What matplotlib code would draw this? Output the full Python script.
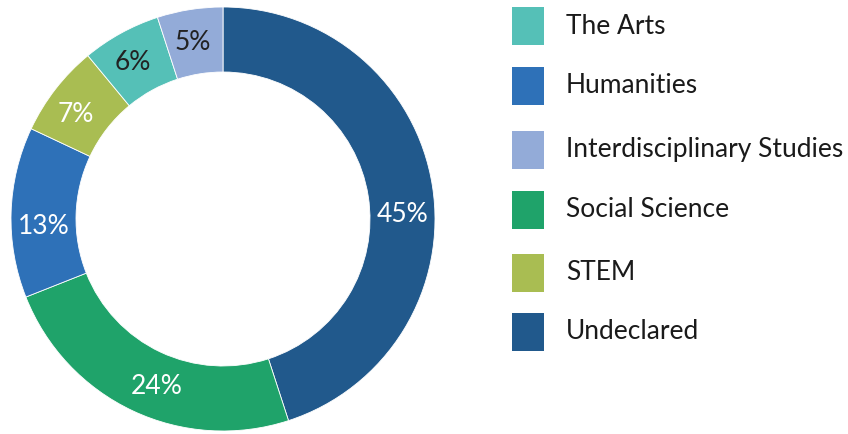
import matplotlib.pyplot as plt
from matplotlib.patches import Rectangle

categories = ["The Arts", "Humanities", "Interdisciplinary Studies",
              "Social Science", "STEM", "Undeclared"]
colors = ["#55c0b7", "#2e71b8", "#93abd8", "#1fa36a", "#a9bd52", "#21598c"]

# pie order (clockwise from top)
pie_order = ["Undeclared", "Social Science", "Humanities", "STEM",
             "The Arts", "Interdisciplinary Studies"]
pie_values = [45, 24, 13, 7, 6, 5]
label_colors = ["white", "white", "white", "white", "#222222", "#222222"]

plt.rcParams['font.family'] = ['Lato', 'DejaVu Sans']

W, H = 848, 434
fig = plt.figure(figsize=(W / 100, H / 100), dpi=100)
ax = fig.add_axes([0, 0, 1, 1])

pie_colors = [colors[categories.index(c)] for c in pie_order]
wedges, texts, autotexts = ax.pie(
    pie_values, colors=pie_colors, startangle=90, counterclock=False,
    center=(223, H - 219), radius=212, autopct='%d%%', pctdistance=0.85,
    wedgeprops=dict(width=65, edgecolor="white", linewidth=0.6),
    textprops=dict(fontsize=19))

# percent labels sit a little off the slice middles in the original
label_pos = [(403, 215), (157, 386), (44, 226), (76, 114), (133, 63), (193, 42)]
for t, c, (lx, ly) in zip(autotexts, label_colors, label_pos):
    t.set_color(c)
    t.set_position((lx, H - ly))

# pie() resets the limits, so set them afterwards
ax.set_xlim(0, W)
ax.set_ylim(0, H)
ax.set_aspect("equal")
ax.axis("off")

# legend
row_y = [26, 85.5, 150, 209.5, 273, 331.5]
for name, col, y in zip(categories, colors, row_y):
    ax.add_patch(Rectangle((512, H - y - 19), 32, 38, facecolor=col,
                           edgecolor="none"))
    ax.text(566, H - y, name, fontsize=19, color="#1a1a1a",
            va="center", ha="left")

fig.savefig("out.png", dpi=100)
